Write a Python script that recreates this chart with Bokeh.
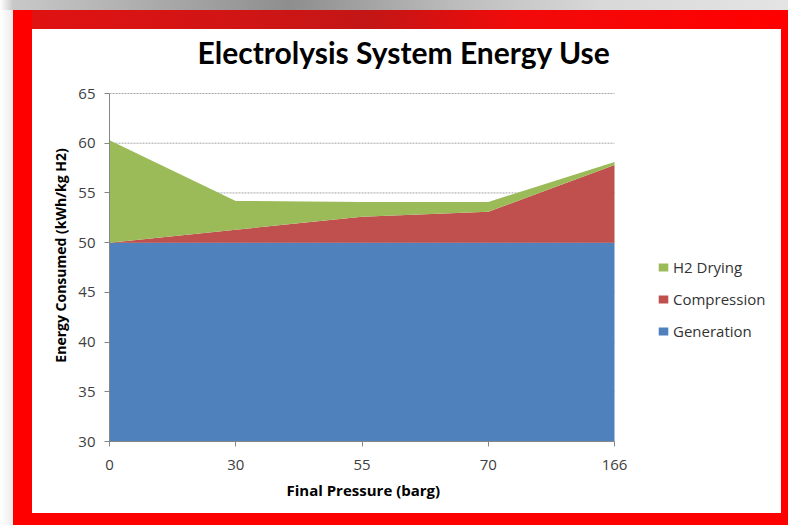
from bokeh.plotting import figure
from bokeh.models import (ColumnDataSource, FixedTicker, Legend, LegendItem,
                          Range1d, Div, Title)
from bokeh.layouts import row, column
from bokeh.embed import file_html
from bokeh.resources import INLINE

# Final pressure categories (barg) and energy components (kWh/kg H2)
pressures = ["0", "30", "55", "70", "166"]
generation = [50.0, 50.0, 50.0, 50.0, 50.0]
compression = [0.0, 1.3, 2.6, 3.1, 7.8]
h2_drying = [10.3, 2.9, 1.5, 1.0, 0.3]
y_ticks = [30, 35, 40, 45, 50, 55, 60, 65]

series = ["Generation", "Compression", "H2 Drying"]
colors = ["#4F81BD", "#C0504D", "#9BBB59"]

# chart panel size and pixel layout inside it; the frame reaches the panel's
# right edge (room for the legend) and a little above the top tick
W, H = 749, 484
FL, FT, FB = 77, 40, 412
DATA_RIGHT, DATA_TOP = 582, 64       # where the last category / top tick land
last = len(pressures) - 1
y_lo, y_hi = y_ticks[0], y_ticks[-1]
x_end = last * (W - FL) / (DATA_RIGHT - FL)
y_end = y_hi + (DATA_TOP - FT) * (y_hi - y_lo) / (FB - DATA_TOP)

src = ColumnDataSource(dict(
    x=list(range(len(pressures))),
    Generation=generation,
    Compression=compression,
    **{"H2 Drying": h2_drying},
))

p = figure(width=W, height=H, output_backend="svg", toolbar_location=None,
           x_range=Range1d(0, x_end), y_range=Range1d(y_lo, y_end),
           min_border_left=FL, min_border_right=0,
           min_border_top=FT, min_border_bottom=H - FB,
           background_fill_color="white", border_fill_color="white",
           outline_line_color=None, margin=0)

# dotted horizontal gridlines across the data region only
p.xgrid.grid_line_color = None
p.ygrid.grid_line_color = None
p.segment(x0=0, x1=last, y0=y_ticks, y1=y_ticks, line_color="#A6A6A6",
          line_dash="2 1", line_width=1, level="underlay")

renderers = p.varea_stack(stackers=series, x="x", color=colors, source=src)

# axes
tick_color = "#404040"
axis_color = "#868686"
p.xaxis.ticker = FixedTicker(ticks=list(range(len(pressures))))
p.xaxis.major_label_overrides = {i: lab for i, lab in enumerate(pressures)}
p.xaxis.bounds = (0, last)
p.yaxis.ticker = FixedTicker(ticks=y_ticks)
p.yaxis.bounds = (y_lo, y_hi)
for ax in (p.xaxis[0], p.yaxis[0]):
    ax.axis_line_color = axis_color
    ax.major_tick_line_color = axis_color
    ax.major_tick_out = 5
    ax.major_tick_in = 0
    ax.minor_tick_line_color = None
    ax.major_label_text_font = "Open Sans"
    ax.major_label_text_font_size = "15px"
    ax.major_label_text_color = tick_color
p.xaxis.major_label_standoff = 13
p.yaxis.major_label_standoff = 9
p.yaxis.axis_label = "Energy Consumed (kWh/kg H2)"
p.yaxis.axis_label_text_font = "Open Sans"
p.yaxis.axis_label_text_font_style = "bold"
p.yaxis.axis_label_text_font_size = "14px"
p.yaxis.axis_label_text_color = "black"
p.yaxis.axis_label_standoff = 5

# x axis caption, centred under the data region
p.add_layout(Title(text="Final Pressure (barg)", align="left", offset=177,
                   standoff=10, text_font="Open Sans", text_font_style="bold",
                   text_font_size="15px", text_color="black"), "below")

# chart title
p.title.text = "Electrolysis System Energy Use"
p.title.align = "left"
p.title.offset = 88
p.title.standoff = 0
p.title.text_font = "Lato"
p.title.text_font_style = "bold"
p.title.text_font_size = "30px"
p.title.text_color = "black"

# legend, top series first, placed in the frame right of the data
items = [LegendItem(label=s, renderers=[r]) for s, r in zip(series, renderers)][::-1]
legend = Legend(items=items, location=(548, 100), padding=0, margin=0,
                spacing=12, label_height=20, glyph_height=10, glyph_width=12,
                label_standoff=4, border_line_color=None,
                background_fill_alpha=0,
                label_text_font="Open Sans", label_text_font_size="15px",
                label_text_color="#333333")
p.add_layout(legend, "center")


def block(w, h, background):
    return Div(text="", width=w, height=h, margin=0,
               styles={"background": background})


red = "#FF0000"
shadow = block(788, 10, "linear-gradient(to right, #ffffff 0px, #c8c8c8 13px, "
                        "#b2b2b2 120px, #8e8e8e 290px, #bdbdbd 460px, "
                        "#d8d8d8 600px, #e4e4e4 788px)")
left_pad = block(13, 515, "linear-gradient(to right, #ffffff, #ececec)")
left_red = block(19, 515, red)
top_red = block(W, 19, "linear-gradient(to right, #e01212 0%, #cf1515 30%, "
                       "#c31616 45%, #f20a0a 65%, #ff0000 100%)")
bottom_red = block(W, 12, red)
right_red = block(7, 515, red)

page = column(shadow,
              row(left_pad, left_red, column(top_red, p, bottom_red), right_red),
              margin=0)

open("out.html", "w").write(file_html(page, INLINE))
